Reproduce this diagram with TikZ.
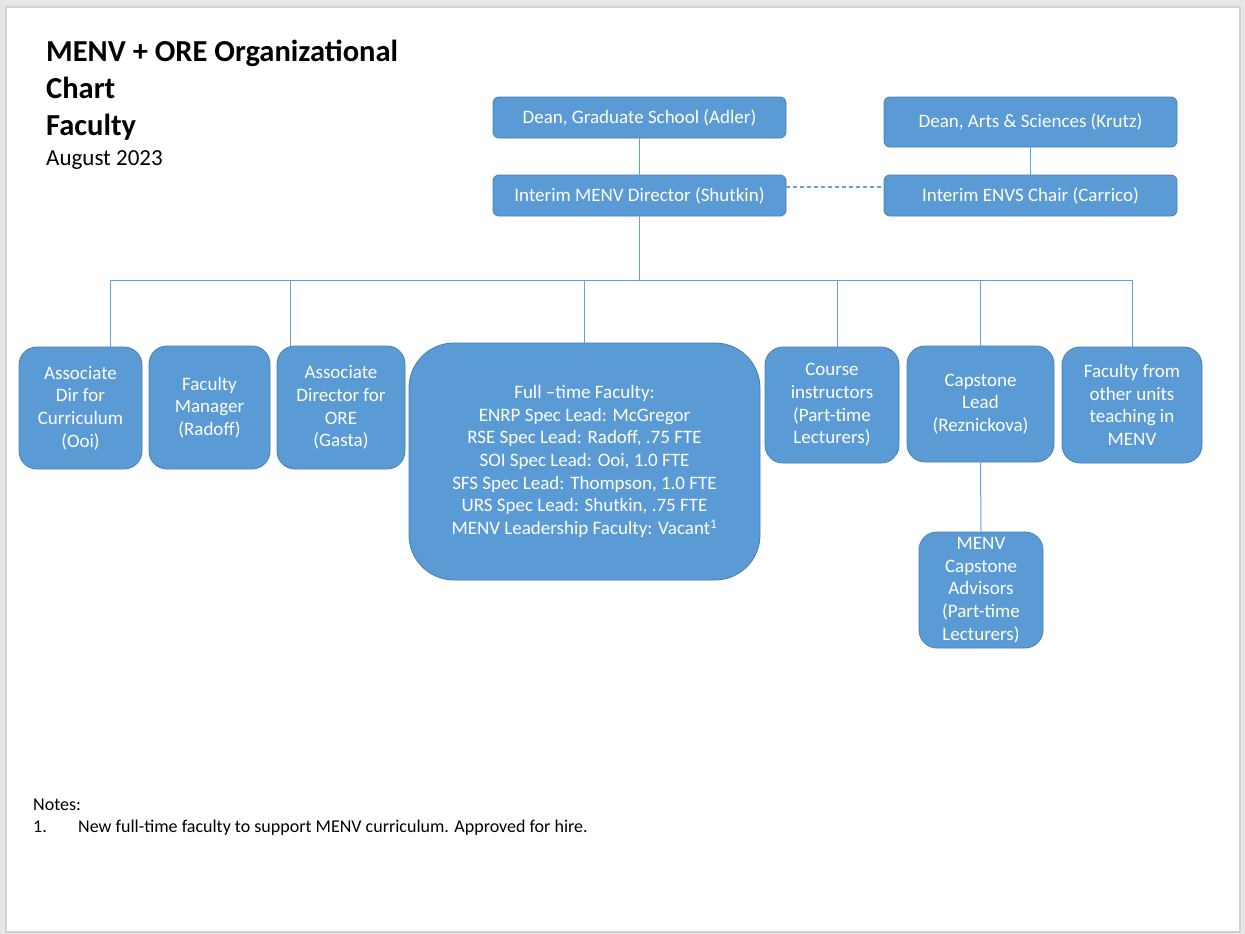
\documentclass[tikz,border=0pt]{standalone}
\usepackage{fontspec}
\setmainfont{Carlito}
\usetikzlibrary{calc}

\definecolor{boxfill}{RGB}{91,155,213}
\definecolor{boxedge}{RGB}{72,125,180}
\definecolor{linkblue}{RGB}{100,160,220}
\definecolor{pagegray}{RGB}{230,230,230}

\begin{document}
\begin{tikzpicture}[x=1pt, y=-1pt, line join=round,
    box/.style={draw=boxedge, fill=boxfill, text=white, align=center, inner sep=0pt,
      line width=0.8pt, font=\fontsize{19}{22.7}\selectfont},
    link/.style={draw=linkblue, line width=1pt},
    txt/.style={anchor=base west, inner sep=0pt}]
  % Page
  \useasboundingbox (0,0) rectangle (1245,934);
  \fill[pagegray] (0,0) rectangle (1245,934);
  \fill[white, draw=black!18, line width=1.5pt] (6,7) rectangle (1240,932);

  % Title
  \node[txt, font=\fontsize{30.5}{36.7}\selectfont\bfseries] (title) at (46,61.7)
    {MENV + ORE Organizational};
  \node[txt, font=\fontsize{30.5}{36.7}\selectfont\bfseries] (title2) at (46,98.3) {Chart};
  \node[txt, font=\fontsize{30.5}{36.7}\selectfont\bfseries] (title3) at (46,135) {Faculty};
  \node[txt, font=\fontsize{23}{27}\selectfont] (date) at (46,165.7) {August 2023};

  % Top boxes
  \node[box, rounded corners=6pt, minimum width=293pt, minimum height=41pt] (deangs) at (639.5,117.5)
    {Dean, Graduate School (Adler)};
  \node[box, rounded corners=6pt, minimum width=293pt, minimum height=50pt] (deanas) at (1030.5,122)
    {Dean, Arts \& Sciences (Krutz)};
  \node[box, rounded corners=6pt, minimum width=293pt, minimum height=41pt] (dir) at (639.5,195.5)
    {Interim MENV Director (Shutkin)};
  \node[box, rounded corners=6pt, minimum width=293pt, minimum height=41pt] (chair) at (1030.5,195.5)
    {Interim ENVS Chair (Carrico)};

  % Second row
  \node[box, rounded corners=18pt, minimum width=123pt, minimum height=122pt] (curr) at (80.5,408)
    {Associate\\Dir for\\Curriculum\\(Ooi)};
  \node[box, rounded corners=18pt, minimum width=121pt, minimum height=123pt] (mgr) at (209.5,407.5)
    {Faculty\\Manager\\(Radoff)};
  \node[box, rounded corners=18pt, minimum width=128pt, minimum height=123pt] (ore) at (341,407.5)
    {Associate\\Director for\\ORE\\(Gasta)};
  \node[box, rounded corners=45pt, minimum width=351pt, minimum height=237pt] (fulltime) at (584.5,461.5)
    {Full –time Faculty:\\ENRP Spec Lead: McGregor\\RSE Spec Lead: Radoff, .75 FTE\\
     SOI Spec Lead: Ooi, 1.0 FTE\\SFS Spec Lead: Thompson, 1.0 FTE\\
     URS Spec Lead: Shutkin, .75 FTE\\MENV Leadership Faculty: Vacant\textsuperscript{1}};
  \node[box, rounded corners=18pt, minimum width=134pt, minimum height=116pt] (course) at (832,405)
    {Course\\instructors\\(Part-time\\Lecturers)};
  \node[box, rounded corners=18pt, minimum width=147pt, minimum height=116pt] (caplead) at (980.5,404)
    {Capstone\\Lead\\(Reznickova)};
  \node[box, rounded corners=18pt, minimum width=140pt, minimum height=116pt] (other) at (1132,405)
    {Faculty from\\other units\\teaching in\\MENV};
  \node[box, rounded corners=18pt, minimum width=124pt, minimum height=116pt] (advisors) at (981,590)
    {MENV\\Capstone\\Advisors\\(Part-time\\Lecturers)};

  % Connectors
  \coordinate (bus) at (0,280);
  \coordinate (dropcurr) at (110,280);
  \coordinate (dropore) at (290,280);
  \coordinate (dropcourse) at (837,280);
  \draw[link] (deangs) -- (dir);
  \draw[link] (deanas) -- (chair);
  \draw[link, line width=1.3pt, dash pattern=on 4pt off 3pt] (dir.east |- 0,187) -- (chair.west |- 0,187);
  \draw[link] (dir.south) -- (dir.south |- bus);
  \draw[link] (dropcurr) -- (other.north |- bus);
  \draw[link] (dropcurr) -- (dropcurr |- curr.north);
  \draw[link] (dropore) -- (dropore |- ore.north);
  \draw[link] (fulltime.north |- bus) -- (fulltime.north);
  \draw[link] (dropcourse) -- (dropcourse |- course.north);
  \draw[link] (caplead.north |- bus) -- (caplead.north);
  \draw[link] (other.north |- bus) -- (other.north);
  \draw[link] (caplead.south) -- (advisors.north);

  % Notes
  \node[txt, font=\fontsize{18}{21}\selectfont] (notes) at (33,810) {Notes:};
  \node[txt, font=\fontsize{18}{21}\selectfont] (num) at (33,832) {1.};
  \node[txt, font=\fontsize{18}{21}\selectfont] (note1) at (78,832)
    {New full-time faculty to support MENV curriculum. Approved for hire.};
\end{tikzpicture}
\end{document}
